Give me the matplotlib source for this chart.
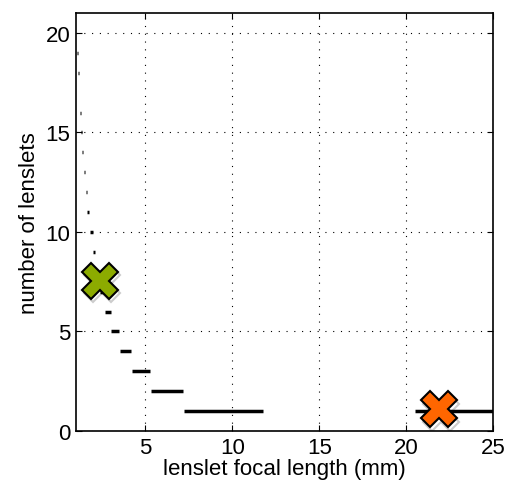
import numpy as np
import matplotlib
matplotlib.use("Agg")
import matplotlib.pyplot as plt
import matplotlib.patheffects as pe

plt.rcParams['font.family'] = ['Liberation Sans', 'DejaVu Sans']

# number of lenslets and the focal length range (mm) for each count
n_lenslets = [1, 1, 2, 3, 4, 5, 6, 7, 8, 9, 10, 11, 12, 13, 14, 15, 16, 17, 18, 19]
f_start = [7.2, 20.5, 5.3, 4.24, 3.52, 2.99, 2.66, 2.38, 2.12, 1.97, 1.78, 1.66, 1.58, 1.45, 1.37, 1.29, 1.24, 1.16, 1.1, 1.05]
f_end = [11.75, 25.0, 7.15, 5.25, 4.18, 3.47, 2.99, 2.66, 2.38, 2.11, 1.95, 1.76, 1.63, 1.5, 1.4, 1.32, 1.27, 1.2, 1.2, 1.1]

# highlighted designs
green_pt = (2.37, 7.55)
orange_pt = (21.9, 1.1)

fig = plt.figure(figsize=(5.08, 4.89), dpi=100)
ax = fig.add_axes([0.1496, 0.1166, 0.8209, 0.8548])

ax.hlines(n_lenslets, f_start, f_end, colors='black', linewidth=2.5)

shadow = [pe.SimpleLineShadow(offset=(1.5, -2.5), shadow_color='black', alpha=0.2), pe.Normal()]
ax.plot(*green_pt, marker='X', markersize=26, color='#8cab00', markeredgecolor='black',
        markeredgewidth=1.5, path_effects=shadow, zorder=5)
ax.plot(*orange_pt, marker='X', markersize=26, color='#ff6600', markeredgecolor='black',
        markeredgewidth=1.5, path_effects=shadow, zorder=5)

ax.set_xlim(1, 25)
ax.set_ylim(0, 21)
ax.set_xticks([5, 10, 15, 20, 25])
ax.set_yticks([0, 5, 10, 15, 20])
ax.grid(True, color='black', linestyle=(0, (1, 6)), linewidth=0.8)
ax.tick_params(direction='in', top=True, right=True, labelsize=16, length=4, pad=4)
for s in ax.spines.values():
    s.set_linewidth(1.2)

ax.set_xlabel('lenslet focal length (mm)', fontsize=16, labelpad=0)
ax.set_ylabel('number of lenslets', fontsize=16, labelpad=4)

fig.savefig('out.png', dpi=100)
